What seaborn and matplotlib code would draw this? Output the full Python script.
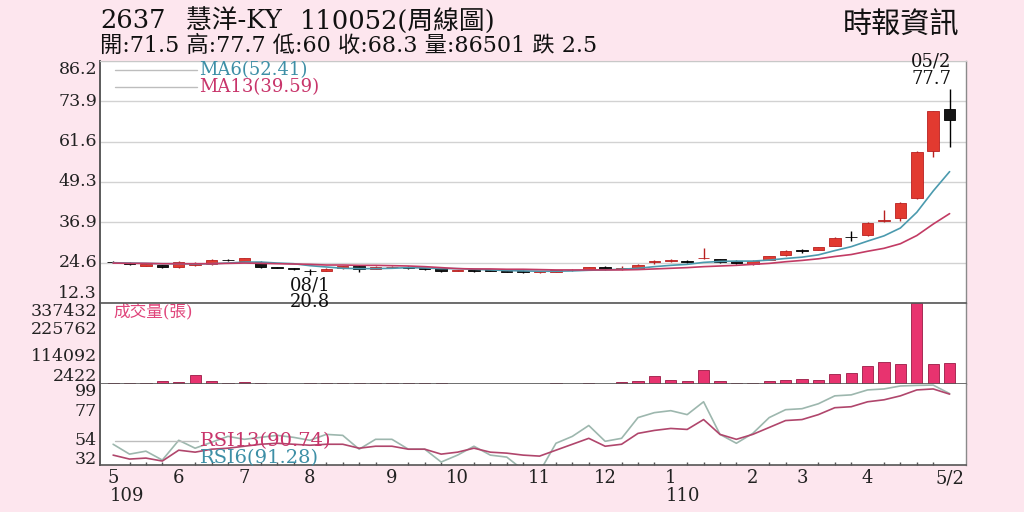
import matplotlib
matplotlib.use('Agg')
import matplotlib.pyplot as plt
import seaborn as sns
import pandas as pd

# weekly candles, 109/05 .. 110/05/2
weeks = list(range(52))
opens = [24.9, 24.6, 23.7, 23.9, 23.3, 23.9, 24.1, 25.5, 25.0, 24.8, 23.3, 23.0, 22.2, 22.2, 22.9, 23.6,
         22.8, 23.2, 23.3, 22.8, 22.9, 22.2, 22.3, 22.4, 22.0, 22.2, 21.8, 21.8, 22.3, 22.6, 23.3, 22.8,
         22.8, 24.8, 25.1, 25.1, 25.9, 25.6, 25.1, 24.1, 25.4, 26.9, 28.4, 28.6, 29.7, 32.5, 33.0, 37.2,
         38.3, 44.3, 58.7, 71.5]
highs = [25.0, 24.8, 24.3, 24.0, 25.0, 24.7, 25.6, 25.7, 26.1, 25.0, 23.4, 23.1, 22.6, 23.0, 23.7, 23.8,
         23.5, 23.6, 23.5, 23.0, 23.0, 22.5, 22.4, 22.5, 22.2, 22.3, 22.1, 22.4, 22.7, 23.4, 23.5, 23.5,
         24.2, 25.5, 25.6, 25.4, 29.2, 25.8, 25.3, 25.3, 26.8, 28.5, 28.9, 29.5, 32.4, 34.4, 37.1, 40.8,
         43.0, 58.7, 71.0, 77.7]
lows = [24.5, 24.0, 23.5, 23.1, 23.1, 23.7, 24.0, 25.1, 24.9, 23.0, 22.9, 22.5, 20.8, 22.0, 22.8, 21.8,
        22.6, 23.0, 22.6, 22.5, 21.9, 22.0, 21.9, 22.0, 21.7, 21.5, 21.6, 21.7, 22.1, 22.4, 22.5, 22.3,
        22.7, 24.3, 24.8, 24.6, 25.8, 24.4, 24.2, 24.0, 25.3, 26.8, 27.6, 28.4, 29.6, 31.2, 32.8, 37.0,
        37.3, 44.0, 56.9, 60.0]
closes = [24.7, 24.2, 24.1, 23.4, 24.8, 24.1, 25.4, 25.3, 25.9, 23.3, 23.1, 22.8, 22.0, 22.8, 23.5, 22.6,
          23.3, 23.3, 22.9, 22.7, 22.1, 22.3, 22.1, 22.2, 21.9, 21.8, 21.9, 22.3, 22.5, 23.2, 22.7, 22.9,
          24.0, 24.9, 25.2, 24.9, 26.1, 24.9, 24.4, 25.2, 26.6, 28.3, 28.3, 29.3, 32.2, 32.4, 36.8, 37.5,
          42.8, 58.4, 70.8, 68.3]
ma6 = [24.6, 24.5, 24.4, 24.3, 24.3, 24.2, 24.3, 24.5, 24.8, 24.8, 24.5, 24.3, 23.7, 23.3, 22.9, 22.8,
       22.8, 22.9, 23.1, 23.0, 22.8, 22.8, 22.6, 22.4, 22.2, 22.1, 22.0, 22.0, 22.1, 22.3, 22.4, 22.6,
       22.9, 23.4, 23.8, 24.1, 24.7, 25.0, 25.1, 25.1, 25.4, 25.9, 26.3, 27.0, 28.3, 29.5, 31.2, 32.8,
       35.2, 40.0, 46.5, 52.41]
ma13 = [24.5, 24.4, 24.4, 24.3, 24.3, 24.3, 24.3, 24.4, 24.5, 24.4, 24.3, 24.2, 24.1, 23.9, 23.9, 23.8,
        23.8, 23.7, 23.6, 23.4, 23.1, 22.8, 22.7, 22.7, 22.6, 22.6, 22.5, 22.4, 22.4, 22.4, 22.4, 22.4,
        22.5, 22.7, 22.9, 23.1, 23.4, 23.6, 23.8, 24.1, 24.4, 24.9, 25.3, 25.8, 26.5, 27.1, 28.1, 29.0,
        30.4, 32.9, 36.4, 39.59]
volume = [2500, 3000, 3500, 14000, 8000, 38000, 14000, 3500, 8000, 5000,
          1500, 1500, 3000, 3000, 3000, 3500, 3000, 3500, 3000, 3000,
          2500, 1500, 1500, 1500, 1500, 1000, 1500, 2500, 2000, 2500,
          2000, 8000, 12500, 34500, 16500, 14000, 58000, 12500, 5500, 5500,
          11000, 16500, 21000, 16500, 40000, 47000, 75000, 93000, 83000, 337432,
          82000, 86501]
rsi6 = [40, 30, 33, 24, 44, 36, 42, 48, 45, 47, 49, 47, 44, 50, 49, 35, 45, 45, 35, 35,
        22, 29, 38, 29, 27, 14, 12, 41, 48, 59, 43, 46, 67, 72, 74, 70, 83, 50, 41, 51,
        67, 75, 76, 81, 89, 90, 95, 96, 99, 99.6, 99.9, 91.28]
rsi13 = [29, 25, 26, 23, 34, 32, 35, 36, 38, 40, 41, 40, 39, 40, 40, 36, 38, 38, 35, 35,
         30, 32, 36, 32, 31, 29, 28, 34, 40, 46, 38, 40, 51, 54, 56, 55, 65, 50, 45, 50,
         57, 64, 65, 70, 77, 78, 83, 85, 89, 95, 96, 90.74]

month_pos = [0, 4, 8, 12, 17, 21, 26, 30, 34, 39, 42, 46, 51]
month_labels = ['5', '6', '7', '8', '9', '10', '11', '12', '1', '2', '3', '4', '5/2']
year_pos = [-0.2, 33.7]
year_labels = ['109', '110']
price_ticks = [12.3, 24.6, 36.9, 49.3, 61.6, 73.9, 86.2]
vol_ticks = [2422, 114092, 225762, 337432]
rsi_ticks = [32, 54, 77, 99]

sns.set_theme(style='white')
plt.rcParams['font.family'] = ['DejaVu Serif', 'Noto Sans CJK TC']

BG = '#fde6ee'
TEAL = '#3d8fa6'
CRIMSON = '#c8346a'

df = pd.DataFrame({'week': weeks, 'open': opens, 'high': highs, 'low': lows, 'close': closes})
df['up'] = df['close'] >= df['open']
df['bottom'] = df[['open', 'close']].min(axis=1)
df['body'] = (df['close'] - df['open']).abs().clip(lower=0.2)

fig = plt.figure(figsize=(10.24, 5.12), dpi=100, facecolor=BG)
L, W = 100 / 1024, 866 / 1024
ax_p = fig.add_axes([L, 1 - 303 / 512, W, 242 / 512])
ax_v = fig.add_axes([L, 1 - 384 / 512, W, 81 / 512], sharex=ax_p)
ax_r = fig.add_axes([L, 1 - 465 / 512, W, 81 / 512], sharex=ax_p)
ax_p.set_zorder(3)

# ---- price panel
ax_p.set_ylim(12.3, 86.2)
ax_p.set_yticks(price_ticks)
ax_p.yaxis.grid(True, color='#d2d2d2', lw=1)
ax_p.set_axisbelow(True)

for up, col, edge in [(True, '#e23a30', '#b82020'), (False, '#151515', '#000000')]:
    d = df[df['up'] == up]
    ax_p.vlines(d['week'], d['low'], d['high'], colors=edge, lw=1, zorder=2)
    ax_p.bar(d['week'], d['body'], bottom=d['bottom'], width=0.7, color=col,
             edgecolor=edge, linewidth=0.6, zorder=3)

sns.lineplot(x=weeks, y=ma6, ax=ax_p, color='#4b9aae', lw=1.2, zorder=4)
sns.lineplot(x=weeks, y=ma13, ax=ax_p, color='#c23b64', lw=1.2, zorder=4)

for yy in [0.963, 0.893]:
    ax_p.plot([0.017, 0.112], [yy, yy], transform=ax_p.transAxes, color='#bdbdbd', lw=1)
ax_p.text(0.115, 0.963, 'MA6(52.41)', transform=ax_p.transAxes, color=TEAL,
          fontsize=13, va='center', ha='left')
ax_p.text(0.115, 0.893, 'MA13(39.59)', transform=ax_p.transAxes, color=CRIMSON,
          fontsize=13, va='center', ha='left')

ax_p.annotate('05/2\n77.7', xy=(51, 77.7), xytext=(2, 1), textcoords='offset pixels',
              ha='right', va='bottom', fontsize=13, linespacing=0.95, color='#111')
ax_p.annotate('08/1\n20.8', xy=(12, 20.8), xytext=(0, -1), textcoords='offset pixels',
              ha='center', va='top', fontsize=13, linespacing=0.95, color='#111')

# ---- volume panel
sns.barplot(x=weeks, y=volume, ax=ax_v, native_scale=True, color='#e8336f',
            saturation=1, width=0.68, edgecolor='#9a1a45', linewidth=0.6, errorbar=None)
ax_v.set_ylim(0, 337432)
ax_v.set_yticks(vol_ticks)
ax_v.text(0.015, 0.877, '成交量(張)', transform=ax_v.transAxes, color='#e0457b',
          fontsize=12, va='center', ha='left')

# ---- RSI panel
sns.lineplot(x=weeks, y=rsi6, ax=ax_r, color='#9db7ae', lw=1.2)
sns.lineplot(x=weeks, y=rsi13, ax=ax_r, color='#b0466c', lw=1.2)
ax_r.set_ylim(19, 101)
ax_r.set_yticks(rsi_ticks)
ax_r.plot([0.017, 0.113], [0.296, 0.296], transform=ax_r.transAxes, color='#bdbdbd', lw=1)
ax_r.text(0.115, 0.296, 'RSI13(90.74)', transform=ax_r.transAxes, color=CRIMSON,
          fontsize=14, va='center', ha='left')
ax_r.text(0.115, 0.086, 'RSI6(91.28)', transform=ax_r.transAxes, color=TEAL,
          fontsize=14, va='center', ha='left')

ax_r.set_xlim(-0.8, 52.0)
ax_r.set_xticks(month_pos)
ax_r.set_xticklabels(month_labels)
ax_r.set_xticks(weeks, minor=True)
ax_r.tick_params(axis='x', which='major', length=0, pad=3, labelsize=13, colors='#222')
ax_r.tick_params(axis='x', which='minor', length=2.5, direction='in', color='#555', bottom=True)
for xp, lab in zip(year_pos, year_labels):
    ax_r.text(xp, -0.385, lab, transform=ax_r.get_xaxis_transform(), ha='left', va='center',
              fontsize=13, color='#222')

# ---- shared styling, y labels drawn with small nudges like the reference
nudges = {
    ax_p: (price_ticks, [str(v) for v in price_ticks], [9, 0, 0, 0, 0, 0, -9]),
    ax_v: (vol_ticks, [str(v) for v in vol_ticks], [7, 0, 0, -8]),
    ax_r: (rsi_ticks, [str(v) for v in rsi_ticks], [-7, -10, -4, -6]),
}
for ax, (vals, labs, dys) in nudges.items():
    ax.set_facecolor('white')
    ax.set_xlabel('')
    ax.set_ylabel('')
    ax.tick_params(axis='y', length=0, labelleft=False)
    if ax is not ax_r:
        ax.tick_params(axis='x', which='both', length=0, labelbottom=False)
    for v, lab, dy in zip(vals, labs, dys):
        ax.annotate(lab, xy=(0, v), xycoords=ax.get_yaxis_transform(), xytext=(-3, dy),
                    textcoords='offset pixels', ha='right', va='center', fontsize=12.5,
                    color='#222', annotation_clip=False)
    ax.spines['left'].set_color('#5a5a5a')
    ax.spines['left'].set_linewidth(1.4)
    ax.spines['right'].set_color('#8a8a8a')
    ax.spines['right'].set_linewidth(1)
    ax.spines['bottom'].set_color('#555555')
    ax.spines['bottom'].set_linewidth(1.2)
    ax.spines['top'].set_visible(False)
ax_p.spines['top'].set_visible(True)
ax_p.spines['top'].set_color('#c8c8c8')
ax_p.spines['top'].set_linewidth(0.8)

# ---- header
fig.text(100 / 1024, 1 - 21 / 512, '2637', fontsize=18.5, ha='left', va='center', color='#111')
fig.text(186 / 1024, 1 - 21 / 512, '慧洋-KY', fontsize=18.5, ha='left', va='center', color='#111')
fig.text(300 / 1024, 1 - 21 / 512, '110052(周線圖)', fontsize=18.5, ha='left', va='center', color='#111')
fig.text(100 / 1024, 1 - 46 / 512, '開:71.5 高:77.7 低:60 收:68.3 量:86501 跌 2.5',
         fontsize=16, ha='left', va='center', color='#111')
fig.text(901 / 1024, 1 - 25 / 512, '時報資訊', fontsize=21, ha='center', va='center', color='#111')

fig.savefig('out.png', dpi=100, facecolor=BG)
